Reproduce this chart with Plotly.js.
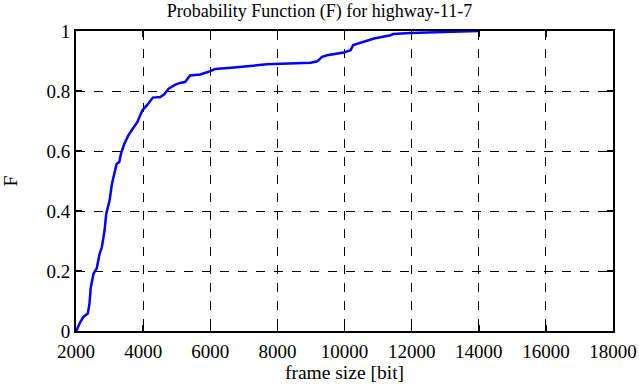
<!DOCTYPE html>
<html>
<head>
<meta charset="utf-8">
<script src="https://cdn.plot.ly/plotly-3.0.1.min.js"></script>
<style>html,body{margin:0;padding:0;background:#fff;}#chart{width:639px;height:387px;}</style>
</head>
<body>
<div id="chart"></div>
<script>
const frameSize = [2000, 2020, 2120, 2220, 2350, 2400, 2440, 2520, 2620, 2700, 2770, 2850, 2900, 3000, 3070, 3150, 3210, 3290, 3340, 3440, 3560, 3690, 3830, 3890, 3980, 4110, 4290, 4510, 4630, 4760, 4960, 5100, 5250, 5400, 5700, 5950, 6150, 6700, 7690, 8990, 9190, 9330, 9480, 9980, 10180, 10260, 10480, 10880, 11370, 11450, 11950, 12750, 13440, 14000];
const probF = [0, 0.003, 0.028, 0.047, 0.058, 0.089, 0.145, 0.19, 0.21, 0.256, 0.279, 0.334, 0.39, 0.435, 0.49, 0.524, 0.557, 0.563, 0.591, 0.624, 0.652, 0.674, 0.697, 0.713, 0.736, 0.752, 0.778, 0.780, 0.789, 0.808, 0.821, 0.827, 0.830, 0.852, 0.855, 0.864, 0.873, 0.878, 0.889, 0.894, 0.899, 0.914, 0.919, 0.928, 0.936, 0.953, 0.961, 0.975, 0.986, 0.99, 0.993, 0.996, 0.998, 1.0];
const xTicks = [2000, 4000, 6000, 8000, 10000, 12000, 14000, 16000, 18000];
const yTicks = [0, 0.2, 0.4, 0.6, 0.8, 1];
const yTickText = ['0', '0.2', '0.4', '0.6', '0.8', '1'];

const fam = 'Liberation Serif, Times New Roman, serif';
const font = {family: fam, size: 18, color: '#000'};
const tickFont = {family: fam, size: 19, color: '#000'};
const axTitleFont = {family: fam, size: 19.5, color: '#000'};
const axisCommon = {
  showline: true, linecolor: '#000', linewidth: 2, mirror: 'ticks',
  ticks: 'inside', ticklen: 6, tickwidth: 1.5, tickcolor: '#000',
  showgrid: true, gridcolor: '#000', gridwidth: 1, griddash: 'dash',
  zeroline: false, tickfont: tickFont, fixedrange: true
};
Plotly.newPlot('chart', [{
  x: frameSize, y: probF, type: 'scatter', mode: 'lines',
  line: {color: 'rgb(0,0,255)', width: 2.5}, hoverinfo: 'none'
}], {
  width: 639, height: 387,
  margin: {l: 76, r: 26, t: 31, b: 56},
  paper_bgcolor: '#fff', plot_bgcolor: '#fff',
  showlegend: false,
  font: font,
  title: {text: 'Probability Function (F) for highway-11-7', font: font, x: 0.5, xref: 'container', xanchor: 'center', y: 0.972, yanchor: 'middle'},
  xaxis: Object.assign({}, axisCommon, {
    range: [2000, 18000], tickvals: xTicks, ticktext: xTicks.map(String),
    ticklabelstandoff: 2,
    title: {text: 'frame size [bit]', font: axTitleFont, standoff: 5}
  }),
  yaxis: Object.assign({}, axisCommon, {
    range: [0, 1], tickvals: yTicks, ticktext: yTickText,
    title: {text: 'F', font: axTitleFont, standoff: 24}
  })
}, {staticPlot: true});
</script>
</body>
</html>
